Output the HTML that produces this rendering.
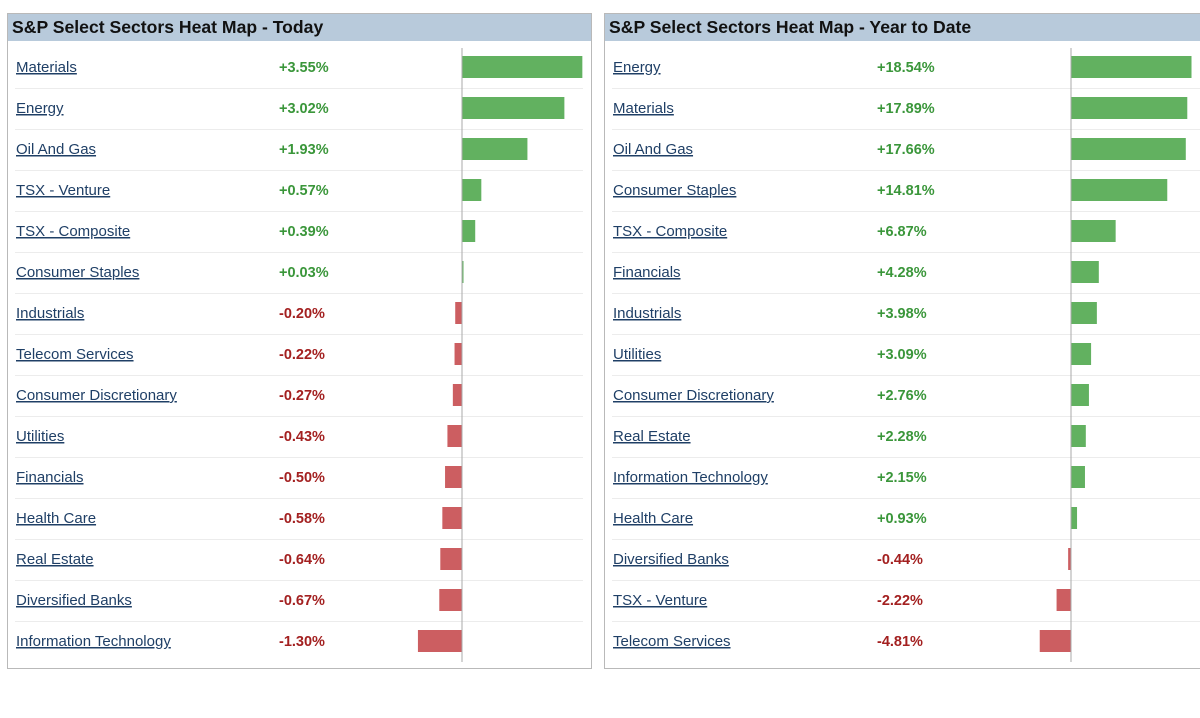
<!DOCTYPE html>
<html><head><meta charset="utf-8"><style>
body{margin:0;width:1200px;height:718px;background:#fff;overflow:hidden;font-family:"Liberation Sans",sans-serif}
svg{position:absolute;left:0;top:0}
</style></head><body>
<svg id="s" width="1200" height="718"></svg>
<script>
const todayNames=["Materials","Energy","Oil And Gas","TSX - Venture","TSX - Composite","Consumer Staples","Industrials","Telecom Services","Consumer Discretionary","Utilities","Financials","Health Care","Real Estate","Diversified Banks","Information Technology"];
const todayValues=[3.55,3.02,1.93,0.57,0.39,0.03,-0.20,-0.22,-0.27,-0.43,-0.50,-0.58,-0.64,-0.67,-1.30];
const ytdNames=["Energy","Materials","Oil And Gas","Consumer Staples","TSX - Composite","Financials","Industrials","Utilities","Consumer Discretionary","Real Estate","Information Technology","Health Care","Diversified Banks","TSX - Venture","Telecom Services"];
const ytdValues=[18.54,17.89,17.66,14.81,6.87,4.28,3.98,3.09,2.76,2.28,2.15,0.93,-0.44,-2.22,-4.81];
const NS="http://www.w3.org/2000/svg";
const svg=document.getElementById('s');
function mk(tag,attrs,parent){const e=document.createElementNS(NS,tag);for(const k in attrs)e.setAttribute(k,attrs[k]);(parent||svg).appendChild(e);return e;}
function panel(px,pw,title,names,values,zeroX,scale,valX,key){
  const g=mk('g',{});
  
  
  mk('rect',{x:px+0.5,y:13.5,width:pw,height:655,fill:'#fff',stroke:'#b9b9b9'},g);
  const h=mk('rect',{x:px+1,y:14,width:pw-1,height:27,fill:'#b8cadb'},g);
  
  
  const t=mk('text',{x:px+5,y:33,'font-size':17.6,'font-weight':'bold',fill:'#111'},g);
  t.textContent=title;
  
  
  const x=v=>zeroX+v*scale;
  names.forEach((n,i)=>{
    const cy=67+41*i;
    if(i<names.length-1){mk('line',{x1:px+8,x2:px+pw-8,y1:cy+21.5,y2:cy+21.5,stroke:'#ececec'},g);}
    const l=mk('text',{x:px+9,y:cy+5,'font-size':15,fill:'#1f3f66','text-decoration':'underline'},g);
    l.textContent=n;
    
    
    const v=values[i];
    const vt=mk('text',{x:valX,y:cy+5,'font-size':14.5,'font-weight':'bold',fill:v>=0?'#3a963a':'#a32020'},g);
    vt.textContent=(v>=0?'+':'')+v.toFixed(2)+'%';
    
    
    const x0=Math.min(x(0),x(v)),w=Math.max(Math.abs(x(v)-x(0)),1.5);
    const b=mk('rect',{x:x0,y:cy-11,width:w,height:22,fill:v>=0?'#62b160':'#cc5e61'},g);
    
    
  });
  const ax=mk('line',{x1:zeroX,x2:zeroX,y1:48,y2:662,stroke:'#aaa'},g);
  
  
}
panel(7,584,'S&P Select Sectors Heat Map - Today',todayNames,todayValues,462,33.9,279,'today');
panel(604,610,'S&P Select Sectors Heat Map - Year to Date',ytdNames,ytdValues,1071,6.5,877,'ytd');
</script>
</body></html>
